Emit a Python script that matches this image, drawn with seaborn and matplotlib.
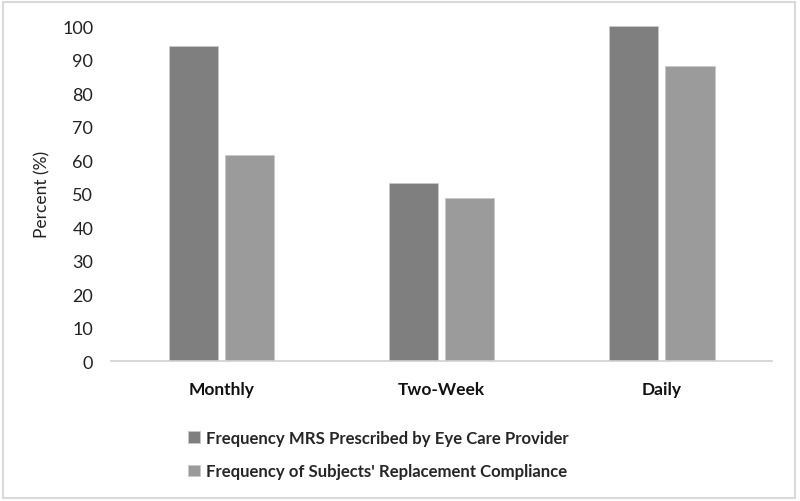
import pandas as pd
import matplotlib.pyplot as plt
import seaborn as sns
from matplotlib.patches import Rectangle

# data
categories = ["Monthly", "Two-Week", "Daily"]
prescribed = [94, 53.2, 100]
compliance = [61.6, 48.7, 88.2]
series_names = ["Frequency MRS Prescribed by Eye Care Provider",
                "Frequency of Subjects' Replacement Compliance"]
yticks = [0, 10, 20, 30, 40, 50, 60, 70, 80, 90, 100]

df = pd.DataFrame({
    "Category": categories * 2,
    "Percent": prescribed + compliance,
    "Series": [series_names[0]] * 3 + [series_names[1]] * 3,
})

sns.set_style("white")
plt.rcParams["font.family"] = ["Lato", "DejaVu Sans"]

fig = plt.figure(figsize=(8, 5.02), dpi=100)
ax = fig.add_axes([0.139, 0.278, 0.826, 0.668])

sns.barplot(data=df, x="Category", y="Percent", hue="Series",
            palette=["#7f7f7f", "#9b9b9b"], width=0.51, gap=0.125,
            edgecolor="#c8c8c8", linewidth=0.6, ax=ax)

ax.set_ylim(0, 100)
ax.set_xlim(-0.5, 2.5)
ax.set_yticks(yticks)
ax.tick_params(axis="y", labelsize=13, length=0, pad=13, colors="#222222")
ax.tick_params(axis="x", labelsize=12.5, length=0, pad=14, colors="#111111")
for lbl in ax.get_xticklabels():
    lbl.set_fontweight("bold")
ax.set_xlabel("")
ax.set_ylabel("Percent (%)", fontsize=12.5, labelpad=8, color="#222222")
for s in ["top", "right", "left"]:
    ax.spines[s].set_visible(False)
ax.spines["bottom"].set_color("#d0d0d0")
ax.spines["bottom"].set_linewidth(1.2)

handles, labels = ax.get_legend_handles_labels()
ax.legend(handles, labels, loc="upper left", bbox_to_anchor=(0.216, 0.172),
          bbox_transform=fig.transFigure, frameon=False, ncol=1,
          prop={"weight": "bold", "size": 12.1}, handlelength=0.7,
          handleheight=0.7, handletextpad=0.4, labelspacing=1.05)

# light frame around the whole figure
fig.patches.append(Rectangle((0.004, 0.005), 0.99, 0.99, transform=fig.transFigure,
                             fill=False, edgecolor="#d9d9d9", linewidth=1.5))

fig.savefig("out.png", dpi=100)
